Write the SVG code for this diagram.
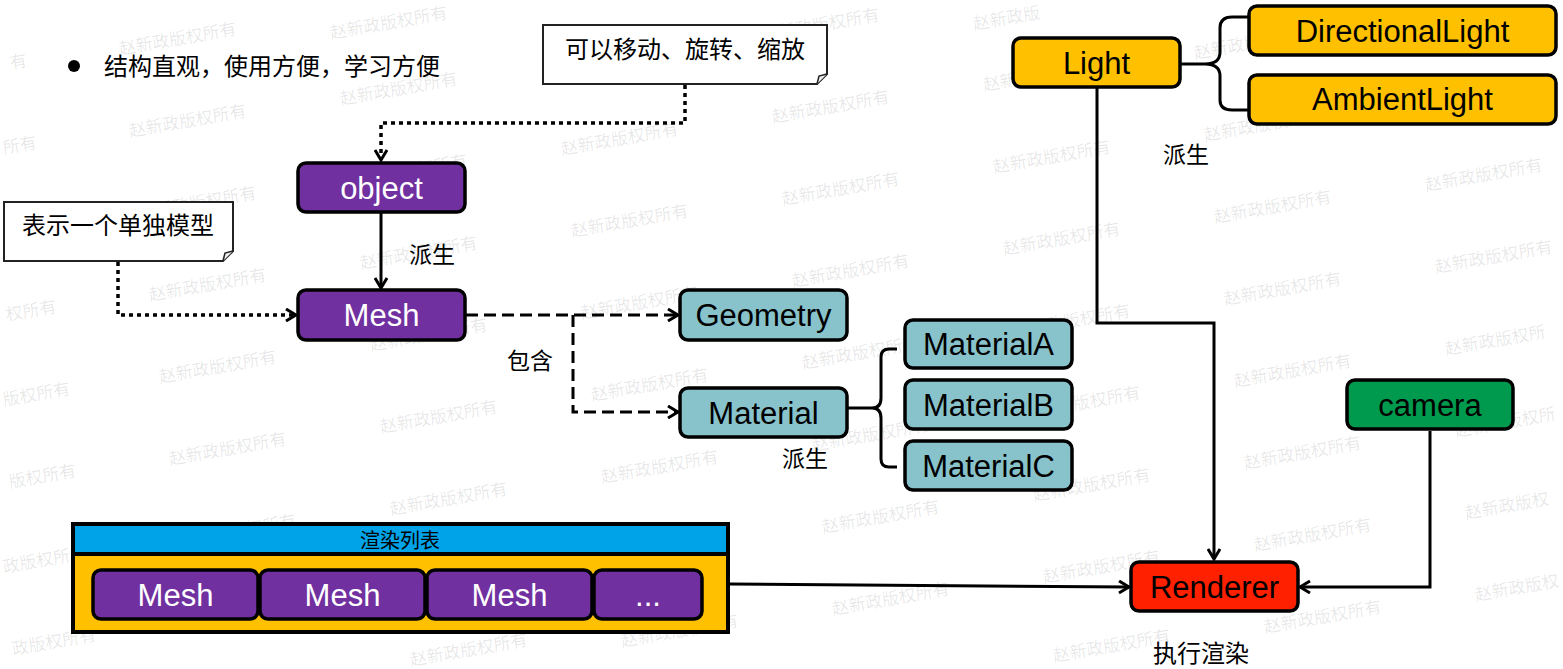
<svg xmlns="http://www.w3.org/2000/svg" width="1563" height="669" viewBox="0 0 1563 669">
<style>
.box{stroke:#000;stroke-width:3.5}
.purple{fill:#7030A0}
.teal{fill:#88C3CB}
.orange{fill:#FFC000}
.green{fill:#009A4E}
.red{fill:#FF2000}
.t{font-family:"Liberation Sans",Arial,sans-serif;font-size:31px;text-anchor:middle;fill:#000}
.w{fill:#fff}
.cjk{font-family:"Noto Sans CJK SC",sans-serif;font-size:23px;fill:#000}
.wm{font-family:"Noto Sans CJK SC",sans-serif;font-size:17px;fill:#000;fill-opacity:0.1}
.conn{fill:none;stroke:#000;stroke-width:3}
.dot{stroke-dasharray:4 4;stroke-width:3.5}
.dash{stroke-dasharray:12 6}
.note{fill:#fff;stroke:#222;stroke-width:2}
</style>
<defs>
<marker id="arr" viewBox="0 0 14 14" refX="12" refY="7" markerWidth="14" markerHeight="14" markerUnits="userSpaceOnUse" orient="auto"><path d="M2,1 L12,7 L2,13" fill="none" stroke="#000" stroke-width="3" stroke-dasharray="none"/></marker>
</defs>
<rect width="1563" height="669" fill="#fff"/>
<g id="watermarks">
<text class="wm" transform="translate(11,69) rotate(-10)">有</text>
<text class="wm" transform="translate(4,154) rotate(-10)">所有</text>
<text class="wm" transform="translate(14,236) rotate(-10)">所有</text>
<text class="wm" transform="translate(7,321) rotate(-10)">权所有</text>
<text class="wm" transform="translate(4,406) rotate(-10)">版权所有</text>
<text class="wm" transform="translate(10,488) rotate(-10)">版权所有</text>
<text class="wm" transform="translate(4,573) rotate(-10)">政版权所有</text>
<text class="wm" transform="translate(13,655) rotate(-10)">政版权所有</text>
<text class="wm" transform="translate(120,55) rotate(-10)">赵新政版权所有</text>
<text class="wm" transform="translate(130,137) rotate(-10)">赵新政版权所有</text>
<text class="wm" transform="translate(140,219) rotate(-10)">赵新政版权所有</text>
<text class="wm" transform="translate(150,301) rotate(-10)">赵新政版权所有</text>
<text class="wm" transform="translate(160,383) rotate(-10)">赵新政版权所有</text>
<text class="wm" transform="translate(170,465) rotate(-10)">赵新政版权所有</text>
<text class="wm" transform="translate(180,547) rotate(-10)">赵新政版权所有</text>
<text class="wm" transform="translate(190,629) rotate(-10)">赵新政版权所有</text>
<text class="wm" transform="translate(331,39) rotate(-10)">赵新政版权所有</text>
<text class="wm" transform="translate(341,105) rotate(-10)">赵新政版权所有</text>
<text class="wm" transform="translate(351,187) rotate(-10)">赵新政版权所有</text>
<text class="wm" transform="translate(361,269) rotate(-10)">赵新政版权所有</text>
<text class="wm" transform="translate(371,351) rotate(-10)">赵新政版权所有</text>
<text class="wm" transform="translate(381,433) rotate(-10)">赵新政版权所有</text>
<text class="wm" transform="translate(391,515) rotate(-10)">赵新政版权所有</text>
<text class="wm" transform="translate(401,597) rotate(-10)">赵新政版权所有</text>
<text class="wm" transform="translate(411,666) rotate(-10)">赵新政版权所有</text>
<text class="wm" transform="translate(552,73) rotate(-10)">赵新政版权所有</text>
<text class="wm" transform="translate(562,155) rotate(-10)">赵新政版权所有</text>
<text class="wm" transform="translate(572,237) rotate(-10)">赵新政版权所有</text>
<text class="wm" transform="translate(582,319) rotate(-10)">赵新政版权所有</text>
<text class="wm" transform="translate(592,401) rotate(-10)">赵新政版权所有</text>
<text class="wm" transform="translate(602,483) rotate(-10)">赵新政版权所有</text>
<text class="wm" transform="translate(612,565) rotate(-10)">赵新政版权所有</text>
<text class="wm" transform="translate(622,647) rotate(-10)">赵新政版权所有</text>
<text class="wm" transform="translate(763,41) rotate(-10)">赵新政版权所有</text>
<text class="wm" transform="translate(773,123) rotate(-10)">赵新政版权所有</text>
<text class="wm" transform="translate(783,205) rotate(-10)">赵新政版权所有</text>
<text class="wm" transform="translate(793,287) rotate(-10)">赵新政版权所有</text>
<text class="wm" transform="translate(803,369) rotate(-10)">赵新政版权所有</text>
<text class="wm" transform="translate(813,451) rotate(-10)">赵新政版权所有</text>
<text class="wm" transform="translate(823,533) rotate(-10)">赵新政版权所有</text>
<text class="wm" transform="translate(833,615) rotate(-10)">赵新政版权所有</text>
<text class="wm" transform="translate(974,30) rotate(-10)">赵新政版</text>
<text class="wm" transform="translate(984,91) rotate(-10)">赵新政版权所有</text>
<text class="wm" transform="translate(994,173) rotate(-10)">赵新政版权所有</text>
<text class="wm" transform="translate(1004,255) rotate(-10)">赵新政版权所有</text>
<text class="wm" transform="translate(1014,337) rotate(-10)">赵新政版权所有</text>
<text class="wm" transform="translate(1024,419) rotate(-10)">赵新政版权所有</text>
<text class="wm" transform="translate(1034,501) rotate(-10)">赵新政版权所有</text>
<text class="wm" transform="translate(1044,583) rotate(-10)">赵新政版权所有</text>
<text class="wm" transform="translate(1054,662) rotate(-10)">赵新政版权所有</text>
<text class="wm" transform="translate(1195,59) rotate(-10)">赵新政版权所有</text>
<text class="wm" transform="translate(1205,141) rotate(-10)">赵新政版权所有</text>
<text class="wm" transform="translate(1215,223) rotate(-10)">赵新政版权所有</text>
<text class="wm" transform="translate(1225,305) rotate(-10)">赵新政版权所有</text>
<text class="wm" transform="translate(1235,387) rotate(-10)">赵新政版权所有</text>
<text class="wm" transform="translate(1245,469) rotate(-10)">赵新政版权所有</text>
<text class="wm" transform="translate(1255,551) rotate(-10)">赵新政版权所有</text>
<text class="wm" transform="translate(1265,633) rotate(-10)">赵新政版权所有</text>
<text class="wm" transform="translate(1406,42) rotate(-10)">赵新政版权所有</text>
<text class="wm" transform="translate(1416,109) rotate(-10)">赵新政版权所有</text>
<text class="wm" transform="translate(1426,191) rotate(-10)">赵新政版权所有</text>
<text class="wm" transform="translate(1436,273) rotate(-10)">赵新政版权所有</text>
<text class="wm" transform="translate(1446,355) rotate(-10)">赵新政版权所</text>
<text class="wm" transform="translate(1456,437) rotate(-10)">赵新政版权所</text>
<text class="wm" transform="translate(1466,519) rotate(-10)">赵新政版权</text>
<text class="wm" transform="translate(1476,601) rotate(-10)">赵新政版权</text>
</g>
<g id="bullet">
<circle cx="74" cy="66" r="6" fill="#000"/>
<text class="cjk" x="104" y="75" style="font-size:24px">结构直观，使用方便，学习方便</text>
</g>
<g id="connectors">
<path class="conn dot" d="M685,85 V123 H381 V160" marker-end="url(#arr)"/>
<path class="conn dot" d="M118,262 V315 H296" marker-end="url(#arr)"/>
<path class="conn" d="M381,213 V288" marker-end="url(#arr)"/>
<path class="conn dash" d="M466,315 H678" marker-end="url(#arr)"/>
<path class="conn dash" d="M573,315 V412 H678" marker-end="url(#arr)"/>
<path class="conn" d="M848,408 H872 Q881,408 881,398 V357 Q881,349 889,349 H897 M872,408 Q881,408 881,418 V459 Q881,467 889,467 H897"/>
<path class="conn" d="M1181,64 H1205 Q1220,64 1220,52 V28 Q1220,17 1232,17 H1249 M1205,64 Q1220,64 1220,76 V100 Q1220,110 1232,110 H1249"/>
<path class="conn" d="M1097,88 V323 H1214 V559" marker-end="url(#arr)"/>
<path class="conn" d="M1430,431 V587 H1300" marker-end="url(#arr)"/>
<path class="conn" d="M730,584 L1129,587" marker-end="url(#arr)"/>
<text class="cjk" x="409" y="263">派生</text>
<text class="cjk" x="507" y="369">包含</text>
<text class="cjk" x="782" y="467">派生</text>
<text class="cjk" x="1163" y="163">派生</text>
<text class="cjk" x="1153" y="662" style="font-size:24px">执行渲染</text>
</g>
<g id="note-move">
<path class="note" d="M543,25 H827 V74 L817,84 H543 Z"/>
<path d="M817,84 L819,76 L827,74" fill="#eee" stroke="#222" stroke-width="1.5"/>
<text class="cjk" x="685" y="58" text-anchor="middle" style="font-size:24px">可以移动、旋转、缩放</text>
</g>
<g id="note-single">
<path class="note" d="M4,202 H233 V251 L223,261 H4 Z"/>
<path d="M223,261 L225,253 L233,251" fill="#eee" stroke="#222" stroke-width="1.5"/>
<text class="cjk" x="118" y="234" text-anchor="middle" style="font-size:24px">表示一个单独模型</text>
</g>
<g id="object"><rect class="box purple" x="298" y="163" width="167" height="49" rx="8"/><text class="t w" x="381.5" y="198.5">object</text></g>
<g id="mesh"><rect class="box purple" x="298" y="290" width="167" height="50" rx="8"/><text class="t w" x="381.5" y="326">Mesh</text></g>
<g id="geometry"><rect class="box teal" x="680" y="290" width="167" height="50" rx="8"/><text class="t" x="763.5" y="326">Geometry</text></g>
<g id="material"><rect class="box teal" x="680" y="388" width="167" height="49" rx="8"/><text class="t" x="763.5" y="424">Material</text></g>
<g id="materialA"><rect class="box teal" x="905" y="320" width="167" height="48" rx="8"/><text class="t" x="988.5" y="355">MaterialA</text></g>
<g id="materialB"><rect class="box teal" x="905" y="380" width="167" height="49" rx="8"/><text class="t" x="988.5" y="416">MaterialB</text></g>
<g id="materialC"><rect class="box teal" x="905" y="441" width="167" height="49" rx="8"/><text class="t" x="988.5" y="477">MaterialC</text></g>
<g id="light"><rect class="box orange" x="1013" y="38" width="167" height="49" rx="8"/><text class="t" x="1096.5" y="74">Light</text></g>
<g id="directionalLight"><rect class="box orange" x="1249" y="6" width="307" height="49" rx="8"/><text class="t" x="1402.5" y="42">DirectionalLight</text></g>
<g id="ambientLight"><rect class="box orange" x="1249" y="75" width="307" height="49" rx="8"/><text class="t" x="1402.5" y="110">AmbientLight</text></g>
<g id="camera"><rect class="box green" x="1347" y="380" width="166" height="49" rx="8"/><text class="t" x="1430" y="416">camera</text></g>
<g id="renderer"><rect class="box red" x="1131" y="562" width="167" height="49" rx="8"/><text class="t" x="1214.5" y="598">Renderer</text></g>
<g id="render-list">
<rect x="73" y="524" width="655" height="108" fill="#FFC000" stroke="#000" stroke-width="4"/>
<rect x="73" y="524" width="655" height="30" fill="#00A3E8" stroke="#000" stroke-width="4"/>
<text class="cjk" x="400" y="548" text-anchor="middle" style="font-size:20px">渲染列表</text>
<rect class="box purple" x="93" y="570" width="165" height="49" rx="8"/><text class="t w" x="175.5" y="606">Mesh</text>
<rect class="box purple" x="260" y="570" width="165" height="49" rx="8"/><text class="t w" x="342.5" y="606">Mesh</text>
<rect class="box purple" x="427" y="570" width="165" height="49" rx="8"/><text class="t w" x="509.5" y="606">Mesh</text>
<rect class="box purple" x="594" y="570" width="108" height="49" rx="8"/><text class="t w" x="648" y="606">...</text>
</g>
</svg>
